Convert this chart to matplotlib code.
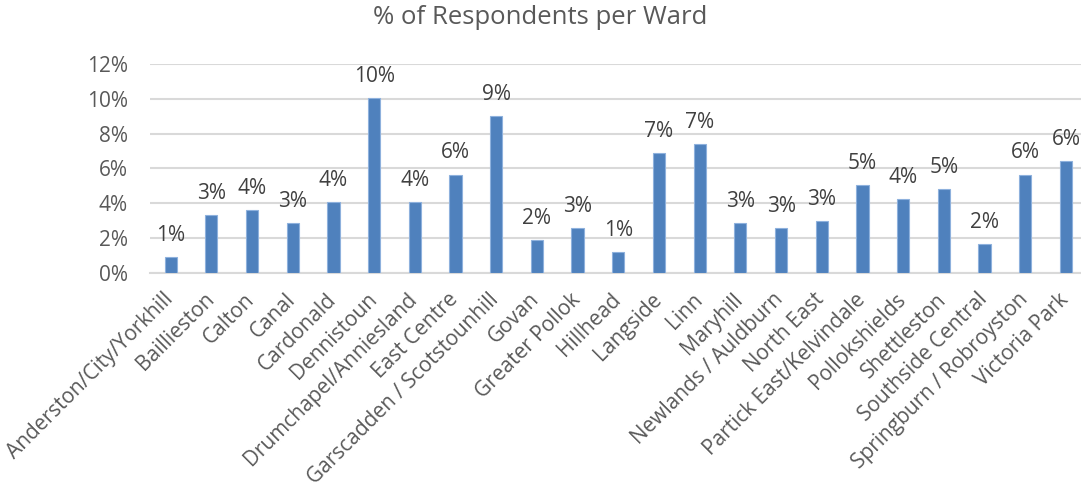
import matplotlib
matplotlib.use("Agg")
import matplotlib.pyplot as plt
import matplotlib.transforms as mtransforms
from matplotlib.ticker import FuncFormatter

wards = [
    "Anderston/City/Yorkhill", "Baillieston", "Calton", "Canal", "Cardonald",
    "Dennistoun", "Drumchapel/Anniesland", "East Centre", "Garscadden / Scotstounhill",
    "Govan", "Greater Pollok", "Hillhead", "Langside", "Linn", "Maryhill",
    "Newlands / Auldburn", "North East", "Partick East/Kelvindale", "Pollokshields",
    "Shettleston", "Southside Central", "Springburn / Robroyston", "Victoria Park",
]
share_pct = [
    0.88, 3.30, 3.60, 2.86, 4.06,
    10.04, 4.06, 5.64, 9.03,
    1.88, 2.57, 1.19, 6.86, 7.38, 2.84,
    2.57, 2.97, 5.06, 4.24,
    4.81, 1.63, 5.64, 6.42,
]
y_ticks = [0, 2, 4, 6, 8, 10, 12]
title = "% of Respondents per Ward"

plt.rcParams["font.family"] = ["Open Sans", "DejaVu Sans"]

fig = plt.figure(figsize=(10.81, 4.88), dpi=100)
ax = fig.add_axes([150.3 / 1081, 1 - 272.7 / 488, 1 - 150.3 / 1081, (272.7 - 64) / 488])

x = list(range(len(wards)))
ax.bar(x, share_pct, width=0.30, color="#4F81BD", edgecolor="#8EB1DD",
       linewidth=0.8, zorder=3)

for xi, v in zip(x, share_pct):
    ax.annotate(f"{round(v):d}%", (xi, v), xytext=(0, 8), textcoords="offset points",
                ha="center", va="bottom", fontsize=15, color="#404040")

ax.set_xlim(-0.5, 22.37)
ax.set_ylim(0, 12)
ax.set_yticks(y_ticks)
ax.yaxis.set_major_formatter(FuncFormatter(lambda v, _: f"{v:.0f}%"))
ax.grid(axis="y", color="#D9D9D9", linewidth=1.5, zorder=0)
ax.set_axisbelow(True)

for side in ("top", "right", "left"):
    ax.spines[side].set_visible(False)
ax.spines["bottom"].set_color("#D9D9D9")
ax.spines["bottom"].set_linewidth(1.5)

ax.tick_params(axis="y", length=0, pad=16, labelsize=15, labelcolor="#595959")
ax.tick_params(axis="x", length=0, pad=6, labelsize=15, labelcolor="#595959")
ax.set_xticks(x)
ax.set_xticklabels(wards, rotation=45, ha="right", rotation_mode="anchor")

# nudge the slanted category labels down and to the left
shift = mtransforms.ScaledTranslation(-8 / 100, -8 / 100, fig.dpi_scale_trans)
for lbl in ax.get_xticklabels():
    lbl.set_transform(lbl.get_transform() + shift)

fig.text(540 / 1081, 1 - 17 / 488, title, ha="center", va="center",
         fontsize=18.5, color="#595959")

fig.savefig("out.png", dpi=100)
